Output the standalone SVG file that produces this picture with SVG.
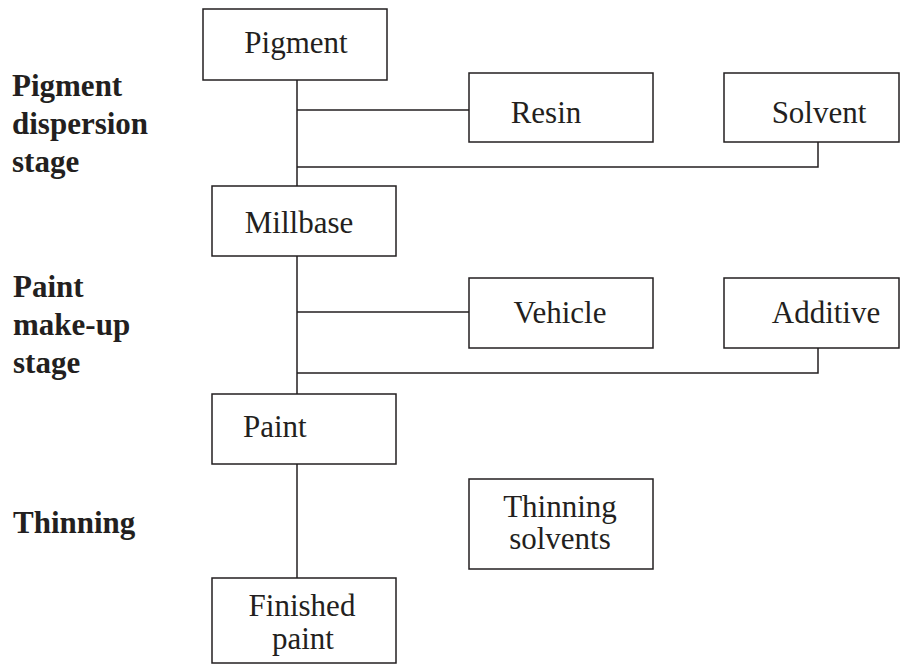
<svg xmlns="http://www.w3.org/2000/svg" width="901" height="664" viewBox="0 0 901 664">
<style>
.box{fill:#fff;stroke:#231f20;stroke-width:1.5}
.t{font-family:"Liberation Serif","Times New Roman",serif;font-size:31px;fill:#231f20}
.c{text-anchor:middle}
.b{font-family:"Liberation Serif","Times New Roman",serif;font-size:31px;font-weight:bold;fill:#231f20}
.ln{fill:none;stroke:#231f20;stroke-width:1.5}
</style>
<rect width="901" height="664" fill="#fff"/>
<g id="labels">
<text class="b" x="12" y="96">Pigment</text>
<text class="b" x="12" y="134">dispersion</text>
<text class="b" x="12" y="172">stage</text>
<text class="b" x="13" y="297">Paint</text>
<text class="b" x="13" y="335">make-up</text>
<text class="b" x="13" y="373">stage</text>
<text class="b" x="13" y="533">Thinning</text>
</g>
<g id="connectors">
<path class="ln" d="M297 80V186M297 110H469M297 167H818V142"/>
<path class="ln" d="M297 256V394M297 312H469M297 373H818V348"/>
<path class="ln" d="M297 464V578"/>
</g>
<g id="pigment"><rect class="box" x="203" y="9" width="184" height="71"/><text class="t c" x="296" y="53">Pigment</text></g>
<g id="resin"><rect class="box" x="469" y="73" width="184" height="69"/><text class="t c" x="546" y="123">Resin</text></g>
<g id="solvent"><rect class="box" x="724" y="73" width="175" height="69"/><text class="t c" x="819" y="123">Solvent</text></g>
<g id="millbase"><rect class="box" x="212" y="186" width="184" height="70"/><text class="t c" x="299" y="233">Millbase</text></g>
<g id="vehicle"><rect class="box" x="469" y="278" width="184" height="70"/><text class="t c" x="560" y="323">Vehicle</text></g>
<g id="additive"><rect class="box" x="724" y="278" width="175" height="70"/><text class="t c" x="826" y="323">Additive</text></g>
<g id="paint"><rect class="box" x="212" y="394" width="184" height="70"/><text class="t" x="243" y="437">Paint</text></g>
<g id="thinning-solvents"><rect class="box" x="469" y="479" width="184" height="90"/><text class="t c" x="560" y="517">Thinning</text><text class="t c" x="560" y="549">solvents</text></g>
<g id="finished-paint"><rect class="box" x="212" y="578" width="184" height="85"/><text class="t c" x="302" y="616">Finished</text><text class="t c" x="303" y="649">paint</text></g>
</svg>
